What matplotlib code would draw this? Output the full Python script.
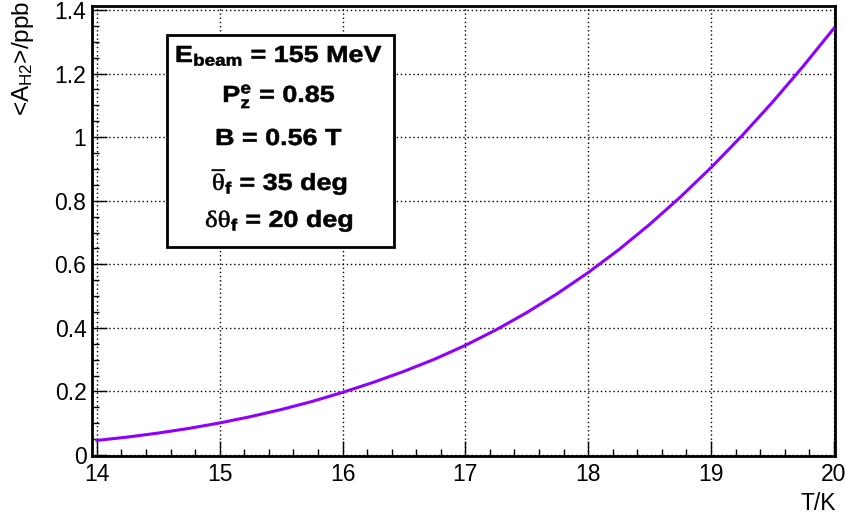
import matplotlib
matplotlib.use("Agg")
import matplotlib.pyplot as plt
from matplotlib.patches import Rectangle, PathPatch
from matplotlib.textpath import TextPath
from matplotlib.font_manager import FontProperties
from matplotlib.transforms import Affine2D

plt.rcParams['font.family'] = ['Liberation Sans', 'DejaVu Sans']
plt.rcParams['mathtext.fontset'] = 'custom'
plt.rcParams['mathtext.rm'] = 'Liberation Sans'
plt.rcParams['mathtext.bf'] = 'Liberation Sans:bold'
plt.rcParams['mathtext.it'] = 'Liberation Sans:italic'
plt.rcParams['mathtext.cal'] = 'Liberation Serif'

T = [14.0, 14.25, 14.5, 14.75, 15.0, 15.25, 15.5, 15.75, 16.0, 16.25, 16.5, 16.75,
     17.0, 17.25, 17.5, 17.75, 18.0, 18.25, 18.5, 18.75, 19.0, 19.25, 19.5, 19.75, 20.0]
A = [0.046, 0.0566, 0.0692, 0.0839, 0.101, 0.1207, 0.1431, 0.1684, 0.197, 0.2286, 0.2633, 0.3017,
     0.345, 0.3938, 0.4481, 0.5081, 0.574, 0.6462, 0.7253, 0.8113, 0.904, 1.0035, 1.1097, 1.2226, 1.342]

box_lines = [r'$\mathbf{E_{beam}}$ = 155 MeV',
             r'$\mathbf{P_z^e}$ = 0.85',
             'B = 0.56 T',
             r'$\overline{\mathcal{\theta}}_\mathbf{f}$ = 35 deg',
             r'$\mathcal{\delta\theta}_\mathbf{f}$ = 20 deg']
box_baselines = [62, 102, 145, 190, 227]  # pixels from top

W, H = 846, 517
fig = plt.figure(figsize=(W / 100, H / 100), dpi=100)
ax = fig.add_axes([92 / W, 1 - 456 / H, (835 - 92) / W, (456 - 6) / H])

ax.plot(T, A, color='#8f00ff', lw=2.2, zorder=3)

ax.set_xlim(13.96, 20.01)
ax.set_ylim(-0.003, 1.4126)
ax.set_xticks([14, 15, 16, 17, 18, 19, 20])
ax.set_xticks([14 + 0.2 * i for i in range(31)], minor=True)
ax.set_yticks([0, 0.2, 0.4, 0.6, 0.8, 1.0, 1.2, 1.4])
ax.set_yticklabels(['0', '0.2', '0.4', '0.6', '0.8', '1', '1.2', '1.4'])
ax.set_yticks([0.05 * i for i in range(29)], minor=True)
ax.tick_params(which='both', direction='in', top=False, right=False, width=1, labelsize=16.5, color='black')
ax.tick_params(which='major', length=11)
ax.tick_params(which='minor', length=5)
ax.tick_params(axis='x', pad=5)
ax.tick_params(axis='y', pad=4)
ax.grid(True, which='major', color='black', lw=1, linestyle=(0, (1, 2)))
for s in ax.spines.values():
    s.set_linewidth(2)

fig.text(836 / W, 1 - 492 / H, 'T/K', ha='right', va='top', fontsize=16.5)
fig.text(23 / W, 1 - 1 / H, r'<A$_{\mathrm{H2}}$>/ppb', ha='center', va='top', rotation=90, fontsize=17.5)

ax.add_patch(Rectangle((167 / W, 1 - 247 / H), (394 - 167) / W, (247 - 35) / H,
                       transform=fig.transFigure, facecolor='white', edgecolor='black',
                       lw=2, zorder=4, clip_on=False))

# ROOT draws the box text wider and heavier than plain Helvetica
bold = FontProperties(family='Liberation Sans', weight='bold')
sx = 1.16
for txt, yb in zip(box_lines, box_baselines):
    tp = TextPath((0, 0), txt, size=23.2, prop=bold)
    ext = tp.get_extents()
    cx = (ext.x0 + ext.x1) / 2
    tr = Affine2D().translate(-cx, 0).scale(sx, 1.0).translate(279, H - yb)
    fig.add_artist(PathPatch(tp, transform=tr, facecolor='black', edgecolor='black',
                             lw=0.4, zorder=5))

fig.savefig('out.png', dpi=100)
